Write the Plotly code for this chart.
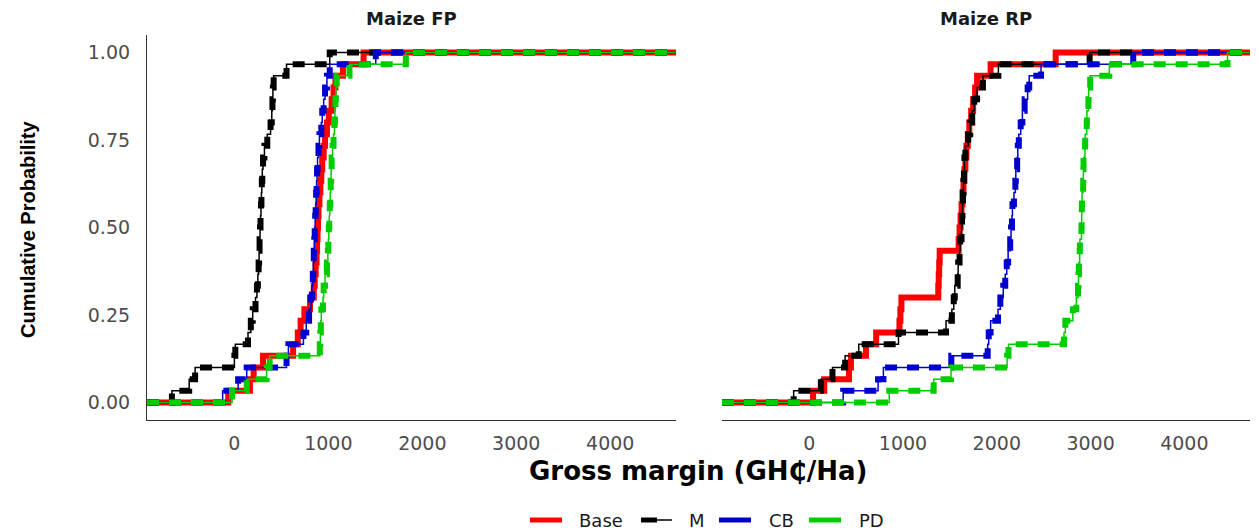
import plotly.graph_objects as go

# ---------------- data ----------------
series_names = ["Base", "M", "CB", "PD"]
panel_titles = ["Maize FP", "Maize RP"]
prob_ticks = [0, 0.25, 0.5, 0.75, 1.0]
prob_labels = ["0.00", "0.25", "0.50", "0.75", "1.00"]
gm_ticks = [0, 1000, 2000, 3000, 4000]
gm_labels = ["0", "1000", "2000", "3000", "4000"]

# Maize FP: gross margin observations (GH¢/Ha), 30 per scenario
fp_base = [-65, 165, 205, 305, 625, 675, 705, 745, 805, 845, 855, 865, 875, 880, 885,
           890, 895, 905, 915, 925, 935, 950, 965, 985, 1005, 1035, 1055, 1075, 1155, 1375]
fp_m = [-665, -481, -418, 0, 10, 145, 175, 195, 225, 240, 250, 258, 263, 268, 273,
        278, 283, 288, 292, 297, 305, 320, 350, 385, 398, 405, 410, 418, 555, 1015]
fp_cb = [-125, 40, 131, 555, 575, 735, 765, 795, 815, 825, 835, 840, 845, 850, 855,
         860, 865, 870, 875, 880, 885, 895, 905, 925, 935, 950, 965, 985, 1015, 1505]
fp_pd = [-25, 131, 343, 375, 909, 915, 920, 925, 943, 950, 965, 985, 995, 1000, 1005,
         1010, 1015, 1020, 1025, 1030, 1035, 1045, 1055, 1065, 1070, 1075, 1080, 1090, 1225, 1825]

# Maize RP
rp_base = [41, 160, 424, 445, 605, 714, 962, 972, 983, 1376, 1381, 1386, 1391, 1593, 1603,
           1614, 1624, 1634, 1645, 1655, 1665, 1676, 1691, 1707, 1727, 1748, 1769, 1790, 1934, 2628]
rp_m = [-166, 124, 248, 383, 528, 952, 1459, 1521, 1541, 1552, 1583, 1588, 1603, 1609, 1624,
        1629, 1634, 1640, 1645, 1650, 1655, 1665, 1696, 1717, 1738, 1759, 1790, 1852, 2017, 2990]
rp_cb = [362, 734, 791, 1515, 1903, 1914, 1934, 2013, 2038, 2069, 2090, 2106, 2121, 2143, 2152,
         2162, 2167, 2183, 2198, 2203, 2217, 2224, 2235, 2255, 2273, 2297, 2329, 2346, 2472, 3455]
rp_pd = [853, 1327, 1512, 2110, 2125, 2717, 2731, 2811, 2848, 2866, 2871, 2876, 2884, 2886, 2903,
         2905, 2907, 2909, 2921, 2923, 2925, 2940, 2943, 2959, 2961, 2977, 2979, 2996, 3200, 4460]

panel_data = [
    {"Base": fp_base, "M": fp_m, "CB": fp_cb, "PD": fp_pd},
    {"Base": rp_base, "M": rp_m, "CB": rp_cb, "PD": rp_pd},
]

# ---------------- style ----------------
colors = {"Base": "#FF0000", "M": "#000000", "CB": "#0000CD", "PD": "#00CD00"}
X_RANGE = [-930, 4700]
Y_RANGE = [-0.05, 1.05]
W, H = 1259, 531
TICK_FONT = dict(family="DejaVu Sans", size=19, color="#4D4D4D")


def fx(px):
    return px / W


def fy(py):
    return 1 - py / H


def ecdf(values, lo, hi):
    xs = sorted(values)
    n = len(xs)
    x = [lo] + xs + [hi]
    y = [0.0] + [(i + 1) / n for i in range(n)] + [1.0]
    return x, y


fig = go.Figure()
for p, data in enumerate(panel_data):
    xa = "x" if p == 0 else "x2"
    ya = "y" if p == 0 else "y2"
    for name in series_names:
        x, y = ecdf(data[name], X_RANGE[0], X_RANGE[1])
        c = colors[name]
        if name == "Base":
            fig.add_trace(go.Scatter(x=x, y=y, mode="lines", line=dict(color=c, width=6, shape="hv"),
                                     xaxis=xa, yaxis=ya, showlegend=False, hoverinfo="skip"))
        else:
            fig.add_trace(go.Scatter(x=x, y=y, mode="lines", line=dict(color=c, width=1.5, shape="hv"),
                                     xaxis=xa, yaxis=ya, showlegend=False, hoverinfo="skip"))
            fig.add_trace(go.Scatter(x=x, y=y, mode="lines",
                                     line=dict(color=c, width=6, shape="hv", dash="12px,10px"),
                                     xaxis=xa, yaxis=ya, showlegend=False, hoverinfo="skip"))

# ---------------- layout ----------------
L1, R1 = fx(147), fx(676)
L2, R2 = fx(722), fx(1250)
B, T = fy(420), fy(35)

axis_common = dict(range=X_RANGE, tickvals=gm_ticks, ticktext=gm_labels, tickfont=TICK_FONT,
                   showgrid=False, zeroline=False, showline=True, linecolor="#333333", linewidth=1.2,
                   ticks="", ticklabelstandoff=6, fixedrange=True)
yaxis_common = dict(range=Y_RANGE, tickvals=prob_ticks, ticktext=prob_labels, tickfont=TICK_FONT,
                    showgrid=False, zeroline=False, ticks="", fixedrange=True)

fig.update_layout(
    width=W, height=H,
    margin=dict(l=0, r=0, t=0, b=0),
    plot_bgcolor="white", paper_bgcolor="white",
    xaxis=dict(domain=[L1, R1], anchor="y", **axis_common),
    xaxis2=dict(domain=[L2, R2], anchor="y2", **axis_common),
    yaxis=dict(domain=[B, T], anchor="x", showline=True, linecolor="#333333", linewidth=1.2,
               showticklabels=True, ticklabelstandoff=12, **yaxis_common),
    yaxis2=dict(domain=[B, T], anchor="x2", showline=False, showticklabels=False, **yaxis_common),
    showlegend=False,
)

ann_common = dict(xref="paper", yref="paper", showarrow=False, xanchor="center", yanchor="middle")
annotations = [
    dict(text="<b>Maize FP</b>", x=(L1 + R1) / 2, y=fy(18),
         font=dict(family="DejaVu Sans", size=18, color="#1a1a1a"), **ann_common),
    dict(text="<b>Maize RP</b>", x=(L2 + R2) / 2, y=fy(18),
         font=dict(family="DejaVu Sans", size=18, color="#1a1a1a"), **ann_common),
    dict(text="<b>Gross margin (GH₵/Ha)</b>", x=fx(698), y=fy(471),
         font=dict(family="DejaVu Sans", size=26, color="#000000"), **ann_common),
    dict(text="<b>Cumulative Probability</b>", x=fx(28), y=fy(229), textangle=-90,
         font=dict(family="Liberation Sans", size=20, color="#000000"), **ann_common),
]

# manual legend (keys drawn as short line shapes, labels as text)
legend_key_x = {"Base": 530, "M": 641, "CB": 719, "PD": 809}
legend_text_x = {"Base": 577, "M": 687, "CB": 767, "PD": 857}
LEG_Y = 520
shapes = []
for name in series_names:
    k0 = legend_key_x[name]
    c = colors[name]
    if name == "M":
        shapes.append(dict(type="line", xref="paper", yref="paper", x0=fx(k0), x1=fx(k0 + 16),
                           y0=fy(LEG_Y), y1=fy(LEG_Y), line=dict(color=c, width=5)))
        shapes.append(dict(type="line", xref="paper", yref="paper", x0=fx(k0 + 16), x1=fx(k0 + 31),
                           y0=fy(LEG_Y), y1=fy(LEG_Y), line=dict(color=c, width=1.5)))
    else:
        shapes.append(dict(type="line", xref="paper", yref="paper", x0=fx(k0), x1=fx(k0 + 32),
                           y0=fy(LEG_Y), y1=fy(LEG_Y), line=dict(color=c, width=5)))
    annotations.append(dict(text=name, x=fx(legend_text_x[name]), y=fy(LEG_Y), xref="paper", yref="paper",
                            showarrow=False, xanchor="left", yanchor="middle",
                            font=dict(family="DejaVu Sans", size=18, color="#1a1a1a")))

fig.update_layout(annotations=annotations, shapes=shapes)

fig.write_html("out.html", config={"displayModeBar": False},
               post_script="document.body.style.margin='0px';")
